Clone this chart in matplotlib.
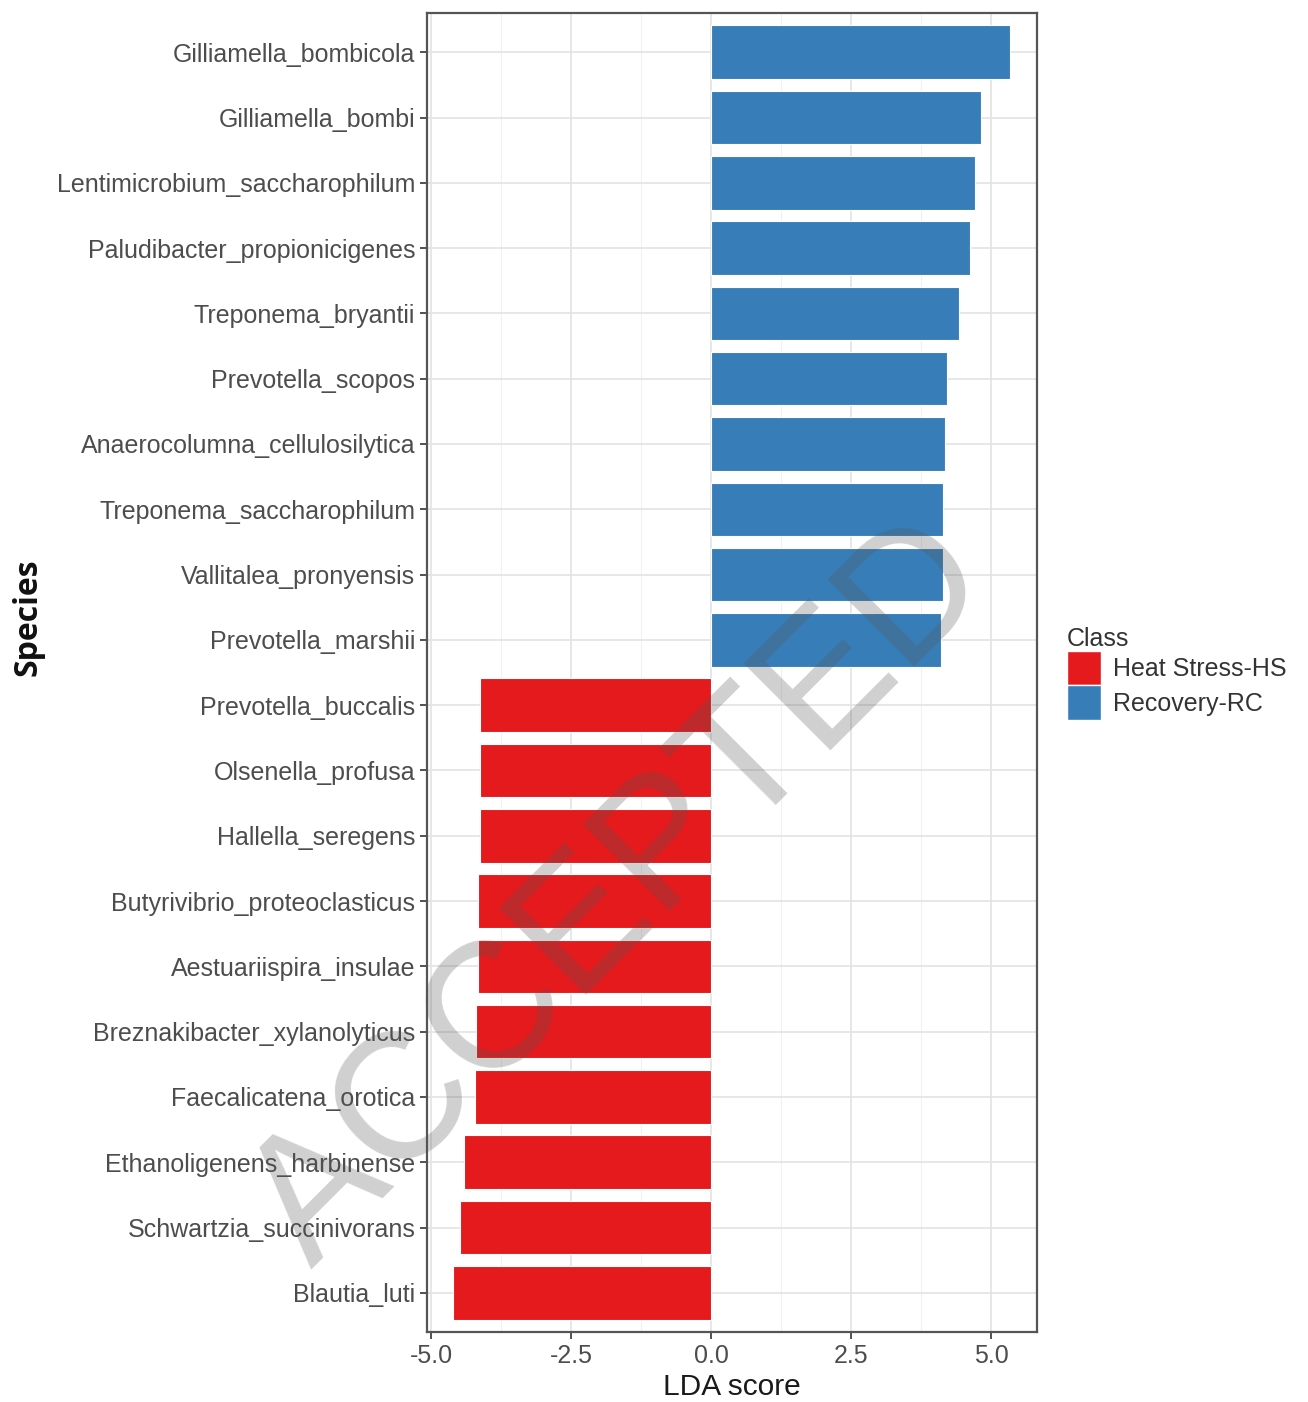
import matplotlib
matplotlib.use("Agg")
import matplotlib.pyplot as plt
from matplotlib.patches import Patch

# LDA effect sizes per species (top of chart first)
species = [
    "Gilliamella_bombicola", "Gilliamella_bombi", "Lentimicrobium_saccharophilum",
    "Paludibacter_propionicigenes", "Treponema_bryantii", "Prevotella_scopos",
    "Anaerocolumna_cellulosilytica", "Treponema_saccharophilum", "Vallitalea_pronyensis",
    "Prevotella_marshii", "Prevotella_buccalis", "Olsenella_profusa", "Hallella_seregens",
    "Butyrivibrio_proteoclasticus", "Aestuariispira_insulae", "Breznakibacter_xylanolyticus",
    "Faecalicatena_orotica", "Ethanoligenens_harbinense", "Schwartzia_succinivorans",
    "Blautia_luti",
]
lda = [5.34, 4.82, 4.71, 4.62, 4.43, 4.21, 4.18, 4.14, 4.14, 4.11,
       -4.12, -4.12, -4.12, -4.16, -4.16, -4.20, -4.21, -4.41, -4.48, -4.61]
classes = ["Recovery-RC"] * 10 + ["Heat Stress-HS"] * 10
class_order = ["Heat Stress-HS", "Recovery-RC"]
class_colors = {"Heat Stress-HS": "#E41A1C", "Recovery-RC": "#377EB8"}
xticks = [-5.0, -2.5, 0.0, 2.5, 5.0]

FONT = ["Liberation Sans", "DejaVu Sans"]

fig = plt.figure(figsize=(13.08, 14.02), dpi=100)
ax = fig.add_axes([0.3265, 0.0499, 0.7928 - 0.3265, 0.9907 - 0.0499])

n = len(species)
ypos = [n - i for i in range(n)]
ax.barh(ypos, lda, height=0.82, color=[class_colors[c] for c in classes],
        edgecolor="white", linewidth=0.8, zorder=3)

ax.set_xlim(-5.07, 5.82)
ax.set_ylim(0.4, n + 0.6)
ax.set_yticks(ypos)
ax.set_yticklabels(species)
ax.set_xticks(xticks)
ax.set_xticklabels([f"{t:.1f}" for t in xticks])

# theme_bw-like grid
ax.set_xticks([-3.75, -1.25, 1.25, 3.75], minor=True)
ax.grid(True, which="major", color="#E3E3E3", linewidth=1.2, zorder=0)
ax.grid(True, which="minor", axis="x", color="#F1F1F1", linewidth=0.8, zorder=0)
ax.set_axisbelow(True)
for s in ax.spines.values():
    s.set_color("#555555")
    s.set_linewidth(1.6)

ax.tick_params(axis="both", which="major", length=5, width=1.2, color="#333333",
               labelcolor="#4D4D4D", labelsize=18)
ax.tick_params(axis="x", which="minor", length=0)
for lab in ax.get_yticklabels() + ax.get_xticklabels():
    lab.set_family(FONT)

ax.set_xlabel("LDA score", fontsize=21.5, color="#1A1A1A", family=FONT, labelpad=4)
ax.set_ylabel("Species", fontsize=23, fontweight="bold", color="#111111",
              family=["Open Sans", "DejaVu Sans"])
ax.yaxis.set_label_coords(-0.627, 0.542)

handles = [Patch(facecolor=class_colors[c], edgecolor="white", label=c) for c in class_order]
leg = fig.legend(handles=handles, title="Class", loc="upper left",
                 bbox_to_anchor=(0.808, 0.560), frameon=False,
                 prop={"family": FONT, "size": 18},
                 title_fontproperties={"family": FONT, "size": 18},
                 handlelength=1.35, handleheight=1.75, handletextpad=0.5,
                 labelspacing=0.0, borderaxespad=0)
leg._legend_box.align = "left"
for t in leg.get_texts():
    t.set_color("#333333")
leg.get_title().set_color("#333333")

# diagonal "ACCEPTED" stamp
fig.text(0.475, 0.362, "ACCEPTED", fontsize=128, color="#555555", alpha=0.28,
         rotation=45, ha="center", va="center", family=FONT, zorder=10)

fig.savefig("out.png", dpi=100)
